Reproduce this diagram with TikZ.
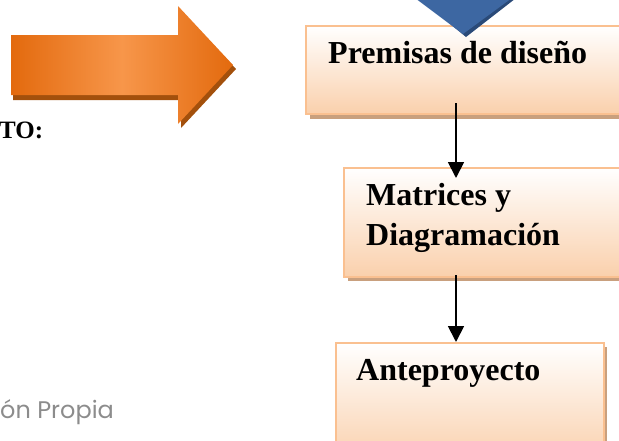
\documentclass[tikz,border=0pt]{standalone}
\usepackage{fontspec}
\setmainfont{Liberation Serif}
\newfontfamily\notefont{Poppins}
\usetikzlibrary{arrows.meta}
\begin{document}
\begin{tikzpicture}[x=1pt,y=-1pt,
  stepbox/.style={draw=boxedge,line width=1.6pt,top color=white,bottom color=boxfill},
  boxshadow/.style={fill=shadowtan},
  boxtext/.style={font=\bfseries\fontsize{32}{40}\selectfont,anchor=base west,inner sep=0pt,align=left},
  flow/.style={line width=1.8pt,-{Triangle[width=16pt,length=16pt]}}
]
\definecolor{boxedge}{HTML}{FAC090}
\definecolor{boxfill}{HTML}{FAD0AC}
\definecolor{shadowtan}{HTML}{C9A07E}
\definecolor{orangedark}{HTML}{E36A0E}
\definecolor{orangelight}{HTML}{F7964A}
\definecolor{orangeshadow}{HTML}{A3500C}
\definecolor{bluemain}{HTML}{3D67A2}
\definecolor{bluedark}{HTML}{2A4A78}
\useasboundingbox (0,0) rectangle (619,440);
\begin{scope}
\clip (0,0) rectangle (619,440);
% orange arrow shadow and body
\fill[orangeshadow] (13,39) -- (180,39) -- (180,10) -- (236,69) -- (181,128) -- (181,100) -- (13,100) -- cycle;
\shade[left color=orangedark,right color=orangedark,middle color=orangelight]
  (11,35) -- (178,35) -- (178,6) -- (233,65) -- (178,124) -- (178,95) -- (11,95) -- cycle;
% box 1
\fill[boxshadow] (310,30) rectangle (640,119);
\node[stepbox,minimum width=340pt,minimum height=88pt,anchor=north west,inner sep=0pt] (b1) at (305,25) {};
% blue chevron
\fill[bluedark] (415,-5) -- (520,-5) -- (466,37) -- cycle;
\fill[bluemain] (411,-5) -- (516,-5) -- (463,34) -- cycle;
\node[boxtext] (t1) at (328,63) {Premisas de diseño};
% box 2
\fill[boxshadow] (348,172) rectangle (640,281);
\node[stepbox,minimum width=300pt,minimum height=109pt,anchor=north west,inner sep=0pt] (b2) at (343,167) {};
\node[boxtext] (t2) at (366,245) {Matrices y\\Diagramación};
% box 3
\fill[boxshadow] (340,347) rectangle (607,460);
\node[stepbox,minimum width=268pt,minimum height=120pt,anchor=north west,inner sep=0pt] (b3) at (335,342) {};
\node[boxtext] (t3) at (356,380) {Anteproyecto};
% connectors
\coordinate (s1) at (456,103);
\coordinate (s2) at (456,275);
\draw[flow] (s1) -- ([yshift=-11pt]s1 |- b2.north);
\draw[flow] (s2) -- (s2 |- b3.north);
% texts on the left
\node[font=\bfseries\fontsize{25}{28}\selectfont,anchor=base west,inner sep=0pt] (to) at (-1,138) {TO:};
\node[font=\notefont\fontsize{24}{28}\selectfont,text=gray!90,anchor=base west,inner sep=0pt] (src) at (0,418) {ón Propia};
\end{scope}
\end{tikzpicture}
\end{document}
